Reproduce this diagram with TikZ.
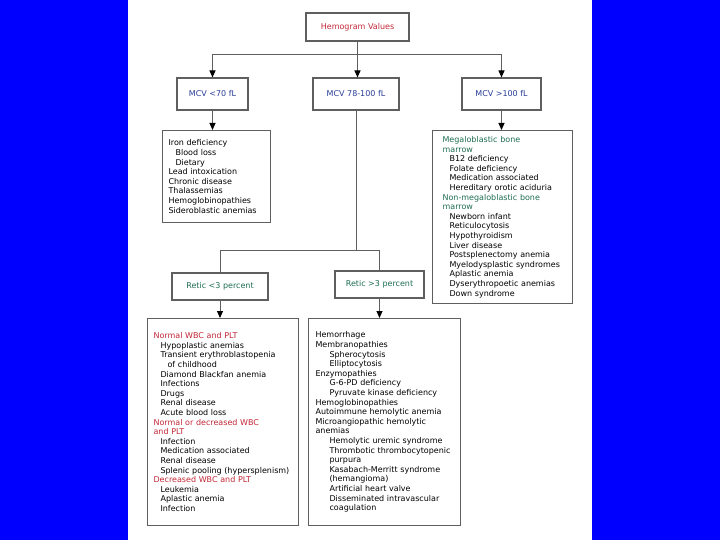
\documentclass[tikz,border=0pt]{standalone}
\usepackage{fontspec}
\setmainfont{DejaVu Sans}
\usetikzlibrary{arrows.meta, positioning}
\definecolor{hemored}{RGB}{196,40,56}
\definecolor{mcvblue}{RGB}{40,60,150}
\definecolor{reticgreen}{RGB}{30,110,80}
\definecolor{boxline}{RGB}{95,95,95}
\newcommand{\subi}{\hspace*{7pt}}
\newcommand{\subii}{\hspace*{14pt}}

\begin{document}
\begin{tikzpicture}[x=1pt, y=-1pt,
    box/.style={rectangle, draw=boxline, line width=1.1pt, fill=white, font=\fontsize{8}{9.6}\selectfont, inner sep=0pt},
    listbox/.style={box, anchor=north west, align=left, inner xsep=6pt},
    link/.style={draw=boxline, line width=1pt},
    arrow/.style={link, -{Triangle[length=7pt, width=6pt, black]}}
  ]

  % Hintergrund
  \useasboundingbox (0,0) rectangle (720,540);
  \fill[blue] (0,0) rectangle (720,540);
  \fill[white] (128,0) rectangle (592,540);

  % Knoten
  \node[box, minimum width=103pt, minimum height=28pt, text=hemored] (hemo) at (357.5,27) {Hemogram Values};

  \node[box, minimum width=71pt, minimum height=32pt, text=mcvblue] (mcvlow) at (212.5,94) {MCV <70 fL};
  \node[box, minimum width=86pt, minimum height=32pt, text=mcvblue] (mcvmid) at (356,94) {MCV 78-100 fL};
  \node[box, minimum width=79pt, minimum height=32pt, text=mcvblue] (mcvhigh) at (501.5,94) {MCV >100 fL};

  \node[listbox, text width=96pt, minimum height=92pt] (iron) at (162,130) {%
    Iron deficiency\\
    \subi Blood loss\\
    \subi Dietary\\
    Lead intoxication\\
    Chronic disease\\
    Thalassemias\\
    Hemoglobinopathies\\
    Sideroblastic anemias};

  \node[listbox, inner xsep=10pt, text width=120pt, minimum height=173pt] (megalo) at (432,130) {%
    \textcolor{reticgreen}{Megaloblastic bone}\\
    \textcolor{reticgreen}{marrow}\\
    \subi B12 deficiency\\
    \subi Folate deficiency\\
    \subi Medication associated\\
    \subi Hereditary orotic aciduria\\
    \textcolor{reticgreen}{Non-megaloblastic bone}\\
    \textcolor{reticgreen}{marrow}\\
    \subi Newborn infant\\
    \subi Reticulocytosis\\
    \subi Hypothyroidism\\
    \subi Liver disease\\
    \subi Postsplenectomy anemia\\
    \subi \mbox{Myelodysplastic syndromes}\\
    \subi Aplastic anemia\\
    \subi Dyserythropoetic anemias\\
    \subi Down syndrome};

  \node[box, minimum width=96pt, minimum height=27pt, text=reticgreen] (reticlow) at (220,286.5) {Retic <3 percent};
  \node[box, minimum width=89pt, minimum height=27pt, text=reticgreen] (retichigh) at (379.5,284.5) {Retic >3 percent};

  \node[listbox, text width=139pt, minimum height=207pt] (hypoprolif) at (147,318) {%
    \textcolor{hemored}{Normal WBC and PLT}\\
    \subi Hypoplastic anemias\\
    \subi Transient erythroblastopenia\\
    \subii of childhood\\
    \subi Diamond Blackfan anemia\\
    \subi Infections\\
    \subi Drugs\\
    \subi Renal disease\\
    \subi Acute blood loss\\
    \textcolor{hemored}{Normal or decreased WBC}\\
    \textcolor{hemored}{and PLT}\\
    \subi Infection\\
    \subi Medication associated\\
    \subi Renal disease\\
    \subi Splenic pooling (hypersplenism)\\
    \textcolor{hemored}{Decreased WBC and PLT}\\
    \subi Leukemia\\
    \subi Aplastic anemia\\
    \subi Infection};

  \node[listbox, inner xsep=7pt, text width=138pt, minimum height=207pt] (hemolysis) at (308,318) {%
    Hemorrhage\\
    Membranopathies\\
    \subii Spherocytosis\\
    \subii Elliptocytosis\\
    Enzymopathies\\
    \subii G-6-PD deficiency\\
    \subii Pyruvate kinase deficiency\\
    Hemoglobinopathies\\
    Autoimmune hemolytic anemia\\
    Microangiopathic hemolytic\\
    anemias\\
    \subii Hemolytic uremic syndrome\\
    \subii Thrombotic thrombocytopenic\\
    \subii purpura\\
    \subii Kasabach-Merritt syndrome\\
    \subii (hemangioma)\\
    \subii Artificial heart valve\\
    \subii Disseminated intravascular\\
    \subii coagulation};

  % Verbindungen
  \coordinate (split) at (hemo.south |- 0,55);
  \coordinate (branch) at (mcvmid.south |- 0,250);

  \draw[link] (hemo.south) -- (split);
  \draw[arrow] (split) -| (mcvlow.north);
  \draw[arrow] (split) -- (mcvmid.north -| split);
  \draw[arrow] (split) -| (mcvhigh.north);

  \draw[arrow] (mcvlow.south) -- (mcvlow.south |- iron.north);
  \draw[arrow] (mcvhigh.south) -- (mcvhigh.south |- megalo.north);

  \draw[link] (mcvmid.south) -- (branch);
  \draw[link] (branch) -| (reticlow.north);
  \draw[link] (branch) -| (retichigh.north);

  \draw[arrow] (reticlow.south) -- (reticlow.south |- hypoprolif.north);
  \draw[arrow] (retichigh.south) -- (retichigh.south |- hemolysis.north);

\end{tikzpicture}
\end{document}
